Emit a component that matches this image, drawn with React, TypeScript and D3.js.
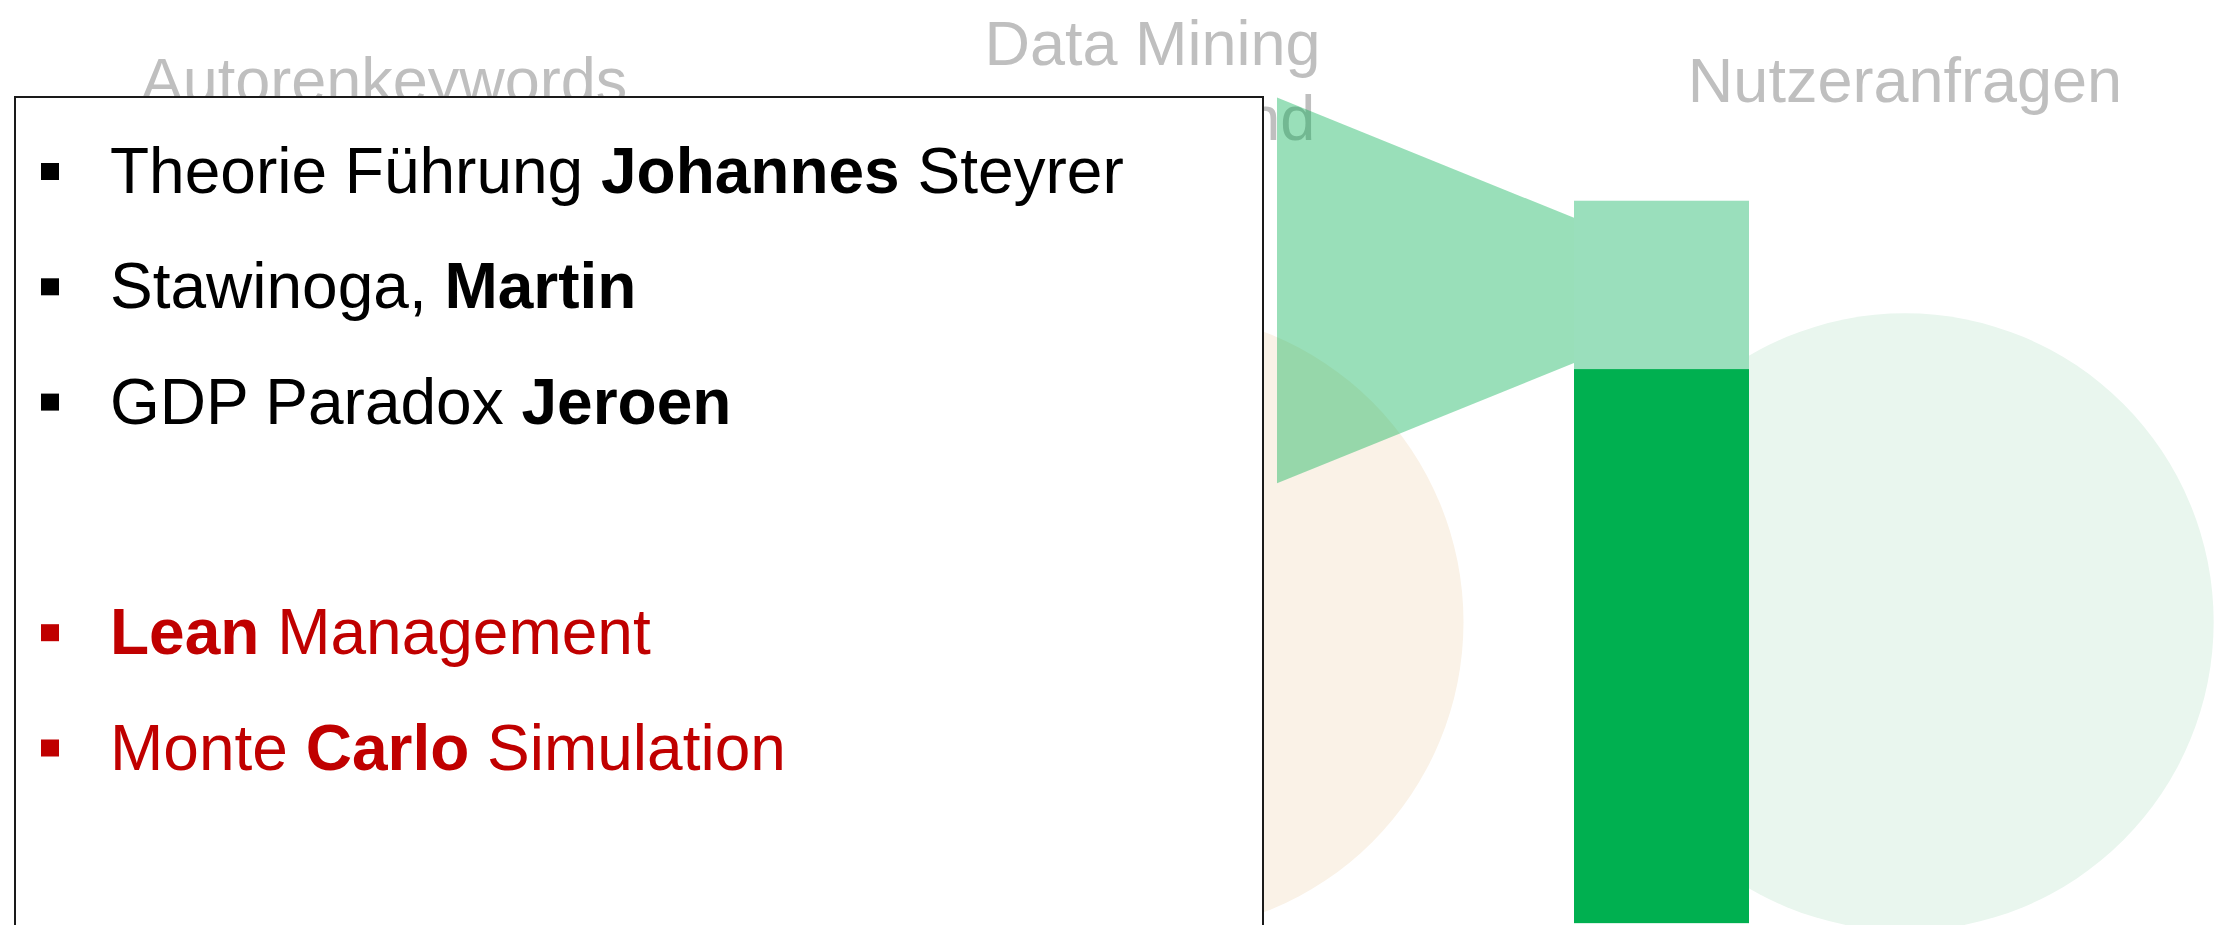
import React, { useEffect, useRef } from 'react';
import * as d3 from 'd3';

// stages of the slide
const stageTitles: string[][] = [['Autorenkeywords'], ['Data Mining', 'on Demand'], ['Nutzeranfragen']];
const stageKeys = ['autoren', 'dataMining', 'nutzer'];

// bubbles behind stage 2 and 3 (relative size)
const bubbleStages = ['dataMining', 'nutzer'];
const bubbleValues = [100, 98.5];
const bubbleColors = ['#faf2e7', '#e9f6ee'];

// funnel: share of the slide height going in / coming out
const funnelValues = [41.7, 15.7];
// stacked bar: matched requests / remaining requests (share of slide height)
const requestValues = [18.2, 59.9];
const requestColors = ['#9adfbc', '#00b050'];

// keyword list, **bold** parts
const authorItems = ['Theorie Führung **Johannes** Steyrer', 'Stawinoga, **Martin**', 'GDP Paradox **Jeroen**'];
const topicItems = ['**Lean** Management', 'Monte **Carlo** Simulation'];

const W = 2214;
const H = 925;
const FONT = '"Liberation Sans", Arial, sans-serif';

const App: React.FC = () => {
  const svgRef = useRef<SVGSVGElement>(null);

  useEffect(() => {
    document.body.style.margin = '0';
    const svg = d3.select(svgRef.current).attr('width', W).attr('height', H);
    svg.selectAll('*').remove();

    const x = d3.scalePoint<string>().domain(stageKeys).range([384, 1905]);
    // middle stage sits a little right of the even spacing
    const sx = (k: string) => x(k)! + (k === 'dataMining' ? 8 : 0);
    const y = d3.scaleLinear().domain([0, 100]).range([0, H]);
    const r = d3.scaleSqrt().domain([0, 100]).range([0, 311]);

    // bubbles
    svg.selectAll('circle.bubble')
      .data(bubbleValues)
      .join('circle')
      .attr('class', 'bubble')
      .attr('cx', (_, i) => sx(bubbleStages[i]))
      .attr('cy', 622)
      .attr('r', (d) => r(d))
      .attr('fill', (_, i) => bubbleColors[i]);

    // stage titles
    const titles = svg.selectAll('text.title')
      .data(stageTitles)
      .join('text')
      .attr('class', 'title')
      .attr('x', (_, i) => sx(stageKeys[i]))
      .attr('text-anchor', 'middle')
      .attr('font-family', FONT)
      .attr('font-size', 63)
      .attr('fill', '#bfbfbf');
    titles.each(function (lines) {
      const t = d3.select(this);
      const lh = 75;
      const y0 = 102 - ((lines.length - 1) * lh) / 2;
      lines.forEach((l, j) => {
        t.append('tspan').attr('x', t.attr('x')).attr('y', y0 + j * lh).text(l);
      });
    });

    // white keyword box
    svg.append('rect')
      .attr('x', 15)
      .attr('y', 97)
      .attr('width', 1248)
      .attr('height', 900)
      .attr('fill', '#fff')
      .attr('stroke', '#1a1a1a')
      .attr('stroke-width', 2);

    const rows = [
      ...authorItems.map((t) => ({ t, c: '#000' })),
      null,
      ...topicItems.map((t) => ({ t, c: '#c00000' })),
    ];
    const rowY = d3.scaleLinear().domain([0, 1]).range([193, 308.3]);

    rows.forEach((row, i) => {
      if (!row) return;
      const by = rowY(i);
      svg.append('rect')
        .attr('x', 41)
        .attr('y', by - 30)
        .attr('width', 18)
        .attr('height', 17)
        .attr('fill', row.c);
      const text = svg.append('text')
        .attr('x', 110)
        .attr('y', by)
        .attr('font-family', FONT)
        .attr('font-size', 64)
        .attr('fill', row.c);
      row.t.split('**').forEach((part, k) => {
        if (!part) return;
        text.append('tspan').attr('font-weight', k % 2 === 1 ? 'bold' : 'normal').text(part);
      });
    });

    // funnel
    const cy = y(31.4);
    const fx = d3.scaleLinear().domain([0, 1]).range([1277, 1574]);
    const area = d3.area<number>()
      .x((_, i) => fx(i))
      .y0((d) => cy - y(d) / 2)
      .y1((d) => cy + y(d) / 2);
    svg.append('path')
      .attr('d', area(funnelValues))
      .attr('fill', '#00b050')
      .attr('fill-opacity', 0.4);

    // stacked request bar
    let acc = 21.7;
    requestValues.forEach((v, i) => {
      svg.append('rect')
        .attr('x', 1574)
        .attr('y', y(acc))
        .attr('width', 175)
        .attr('height', y(v))
        .attr('fill', requestColors[i]);
      acc += v;
    });

    return () => {
      svg.selectAll('*').remove();
    };
  }, []);

  return <svg ref={svgRef} style={{ display: 'block' }}></svg>;
};

export default App;
